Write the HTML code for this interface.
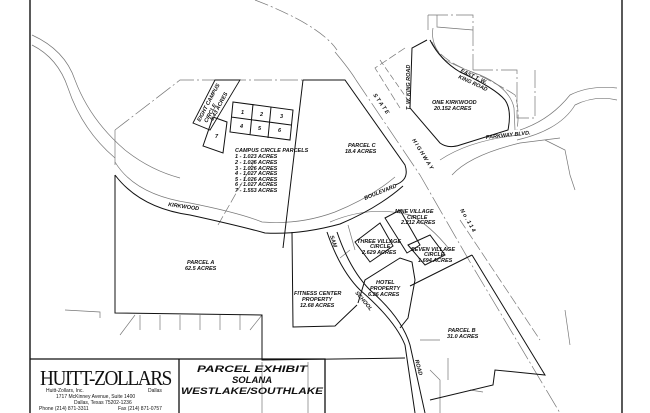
<!DOCTYPE html>
<html><head><meta charset="utf-8"><style>
html,body{margin:0;padding:0;background:#fff;}
svg{display:block;}
text{font-family:"Liberation Sans",sans-serif;font-style:italic;font-weight:bold;fill:#111;}
.t{font-size:5.5px;}
</style></head><body>
<svg width="650" height="413" viewBox="0 0 650 413" xmlns="http://www.w3.org/2000/svg">
<rect width="650" height="413" fill="#fff"/>
<line x1="30" y1="0" x2="30" y2="413" stroke="#000" stroke-width="1.3"/>
<line x1="622" y1="0" x2="622" y2="413" stroke="#000" stroke-width="1.3"/>
<g fill="none" stroke="#777" stroke-width="0.7">
<path d="M255 0 Q320 25 337 50" stroke-dasharray="14 3 2 3"/>
<path d="M335 52 Q350 70 356 80"/>
<path d="M356 80 L420 175 Q440 210 470 262 L560 413" stroke-dasharray="20 3 2 3"/>
<path d="M380 60 L408 100" stroke-dasharray="6 3"/>
<path d="M440 160 Q470 140 520 135" />
<path d="M452 175 Q470 155 520 143 L560 138" />
<path d="M520 130 Q550 120 570 95 Q590 85 617 88"/>
<path d="M517 140 Q560 130 575 105 Q595 95 617 100"/>
<path d="M545 140 L565 150 L570 175 L575 190"/>
<path d="M460 220 L500 280 L540 340" stroke-dasharray="10 3"/>
<path d="M428 15 L473 15 L473 70" stroke-dasharray="20 3 2 3"/>
<path d="M428 15 L428 30 M437 15 L437 27 L473 30"/>
<path d="M432 42 Q440 60 472 72 Q500 85 515 95 Q520 110 517 130" stroke-dasharray="12 3"/>
<path d="M473 70 L517 70 L517 118 L535 118 L535 70" stroke-dasharray="20 3 2 3"/>
<path d="M433 28 Q430 45 445 60 Q460 68 480 75 Q510 88 514 108 L515 130"/>
<path d="M405 48 L375 68 L400 108" stroke-dasharray="8 3"/>
<path d="M32 35 Q65 50 75 80 Q90 120 125 150 Q150 170 180 178"/>
<path d="M32 45 Q58 58 68 88 Q82 130 115 158"/>
<path d="M115 130 L180 80 L345 80" stroke-dasharray="18 3 2 3"/>
<path d="M115 130 L115 165"/>
<path d="M218 225 L255 160" stroke-dasharray="10 3"/>
<path d="M330 222 Q370 205 410 215 Q430 225 450 250" />
<path d="M348 225 L355 250 M340 258 L350 250"/>
<path d="M65 310 L100 312 L100 318"/>
<path d="M120 335 L135 315 M140 315 L140 330 M160 315 L160 330 M180 315 L180 330 M200 315 L200 330 M220 315 L220 330 M240 315 L240 330 M250 330 L262 315"/>
<path d="M262 362 L262 413 M308 362 L308 413 M430 370 L440 380 L440 413 M420 340 L440 340 M448 358 L448 380 M470 390 L483 392"/>
<path d="M565 310 L570 345"/>
<path d="M115 162 Q135 195 190 203 Q240 213 262 222 Q300 225 335 212 Q370 198 395 177"/>
</g>
<g fill="none" stroke="#111" stroke-width="1">
<path d="M115 175 Q140 208 190 215 Q240 226 265 233 Q300 235 340 224 Q378 208 403 186"/>
<path d="M303 80 L345 80 L405 165 Q410 180 395 185"/>
<path d="M303 80 L283 248"/>
<path d="M427 40 L412 48 L410 108 L440 143 Q448 149 460 145 L508 130 Q512 110 505 100 Q495 88 460 72 Q440 60 430 40"/>
<path d="M115 175 L115 313 L262 315 L262 360 L405 358"/>
<path d="M292 232 L293 327 L335 326 L357 305"/>
<path d="M327 232 Q340 270 360 290 Q395 320 405 345 L415 413"/>
<path d="M337 232 Q350 270 370 290 Q402 318 410 345 L425 413"/>
<path d="M358 303 L365 280 L400 258 L412 262 L415 280 L408 318 L400 328"/>
<path d="M410 286 L472 255"/>
<path d="M472 255 L545 375 L495 370 L493 385 L430 400"/>
<path d="M385 218 L400 210 L420 245 L407 253 Z"/>
<path d="M355 242 L380 223 L393 246 L370 262 Z"/>
<path d="M408 245 L430 235 L445 255 L425 265 Z" />
<path d="M233 102 L293 110 L290 140 L230 132 Z M253 104 L250 135 M271 107 L268 138 M231 117 L291 125"/>
<path d="M203 146 L213 117 L227 122 L223 153 Z"/>
<path d="M193 123 L215 80 L240 80 L210 130 Z" stroke-width="0.9"/>
<path d="M30 359 L325 359 L325 413 M179 359 L179 413" stroke-width="1.3"/>
</g>
<text class="t" x="235" y="152">CAMPUS CIRCLE PARCELS</text>
<text class="t" x="235" y="158">1 - 1.023 ACRES</text>
<text class="t" x="235" y="164">2 - 1.026 ACRES</text>
<text class="t" x="235" y="170">3 - 1.026 ACRES</text>
<text class="t" x="235" y="175">4 - 1.027 ACRES</text>
<text class="t" x="235" y="181">5 - 1.026 ACRES</text>
<text class="t" x="235" y="186">6 - 1.027 ACRES</text>
<text class="t" x="235" y="192">7 - 1.553 ACRES</text>
<text class="t" x="241" y="114">1</text><text class="t" x="260" y="116">2</text><text class="t" x="280" y="118">3</text>
<text class="t" x="240" y="128">4</text><text class="t" x="258" y="130">5</text><text class="t" x="278" y="132">6</text>
<text class="t" x="215" y="138">7</text>
<text class="t" transform="translate(200,122) rotate(-62)">EIGHT CAMPUS</text>
<text class="t" transform="translate(207,123) rotate(-62)">CIRCLE</text>
<text class="t" transform="translate(213,121) rotate(-62)">5.43 ACRES</text>
<text class="t" x="348" y="147">PARCEL C</text>
<text class="t" x="345" y="153">18.4 ACRES</text>
<text class="t" x="432" y="104">ONE KIRKWOOD</text>
<text class="t" x="434" y="110">20.152 ACRES</text>
<text class="t" x="486" y="139" transform="rotate(-6 486 139)">PARKWAY BLVD.</text>
<text class="t" transform="translate(460,72) rotate(25)">EAST T. W.</text>
<text class="t" transform="translate(458,78) rotate(25)">KING ROAD</text>
<text class="t" transform="translate(410,110) rotate(-90)">T. W. KING ROAD</text>
<text class="t" transform="translate(373,95) rotate(55)">S  T  A  T  E</text>
<text class="t" transform="translate(412,140) rotate(58)">H  I  G  H  W  A  Y</text>
<text class="t" transform="translate(460,210) rotate(60)">N o .   1 1 4</text>
<text class="t" transform="translate(168,206) rotate(8)">KIRKWOOD</text>
<text class="t" transform="translate(365,200) rotate(-22)">BOULEVARD</text>
<text class="t" x="395" y="213">NINE VILLAGE</text>
<text class="t" x="407" y="219">CIRCLE</text>
<text class="t" x="401" y="224">2.212 ACRES</text>
<text class="t" x="357" y="243">THREE VILLAGE</text>
<text class="t" x="370" y="248">CIRCLE</text>
<text class="t" x="362" y="254">2.629 ACRES</text>
<text class="t" x="411" y="251">SEVEN VILLAGE</text>
<text class="t" x="424" y="256">CIRCLE</text>
<text class="t" x="418" y="262">1.694 ACRES</text>
<text class="t" x="376" y="284">HOTEL</text>
<text class="t" x="370" y="290">PROPERTY</text>
<text class="t" x="368" y="296">6.26 ACRES</text>
<text class="t" x="294" y="295">FITNESS CENTER</text>
<text class="t" x="302" y="301">PROPERTY</text>
<text class="t" x="300" y="307">12.68 ACRES</text>
<text class="t" x="187" y="264">PARCEL A</text>
<text class="t" x="185" y="270">62.5 ACRES</text>
<text class="t" x="448" y="332">PARCEL B</text>
<text class="t" x="447" y="338">31.0 ACRES</text>
<text class="t" transform="translate(330,236) rotate(72)">SAM</text>
<text class="t" transform="translate(355,293) rotate(50)">SCHOOL</text>
<text class="t" transform="translate(415,360) rotate(75)">ROAD</text>
<text x="40" y="385" style="font-family:'Liberation Serif',serif;font-style:normal;font-weight:normal;font-size:21px;letter-spacing:-1.5px" textLength="131" lengthAdjust="spacingAndGlyphs">HUITT-ZOLLARS</text>
<text x="46" y="392" style="font-style:normal;font-weight:normal;font-size:5px">Huitt-Zollars, Inc.</text>
<text x="148" y="392" style="font-style:normal;font-weight:normal;font-size:5px">Dallas</text>
<text x="56" y="398" style="font-style:normal;font-weight:normal;font-size:5px">1717 McKinney Avenue, Suite 1400</text>
<text x="74" y="404" style="font-style:normal;font-weight:normal;font-size:5px">Dallas, Texas 75202-1236</text>
<text x="39" y="410" style="font-style:normal;font-weight:normal;font-size:5px">Phone (214) 871-3311</text>
<text x="118" y="410" style="font-style:normal;font-weight:normal;font-size:5px">Fax (214) 871-0757</text>
<text x="252" y="372" text-anchor="middle" style="font-size:9.5px" textLength="110" lengthAdjust="spacingAndGlyphs">PARCEL EXHIBIT</text>
<text x="252" y="383" text-anchor="middle" style="font-size:9.5px">SOLANA</text>
<text x="252" y="394" text-anchor="middle" style="font-size:9.5px" textLength="142" lengthAdjust="spacingAndGlyphs">WESTLAKE/SOUTHLAKE</text>
</svg>
</body></html>
